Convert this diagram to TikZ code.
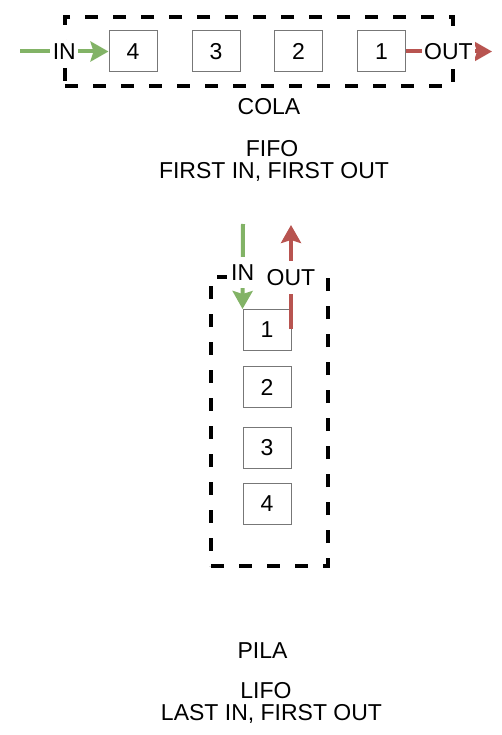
\documentclass[tikz,border=0pt]{standalone}
\usepackage{fontspec}
\setmainfont{Liberation Sans}
\usetikzlibrary{arrows.meta}
\definecolor{ggreen}{HTML}{82B366}
\definecolor{rred}{HTML}{B85450}
\definecolor{boxgray}{HTML}{777777}
\begin{document}
\begin{tikzpicture}[x=1pt,y=-1pt,
  txt/.style={font=\fontsize{23}{25}\selectfont, inner sep=0pt},
  item/.style={txt, draw=boxgray, fill=white, line width=1pt, minimum width=48pt, minimum height=41pt},
  frame/.style={draw=black, line width=4pt, dash pattern=on 13pt off 15pt, minimum width=#1, inner sep=0pt},
  lbl/.style={txt, fill=white, inner xsep=2.5pt, inner ysep=4pt, text=black},
  vlbl/.style={lbl, inner xsep=4pt, inner ysep=8pt},
  garrow/.style={draw=ggreen, line width=4pt, -{Stealth[length=18pt,width=20pt,inset=3pt]}},
  rarrow/.style={draw=rred, line width=4pt, -{Stealth[length=18pt,width=20pt,inset=3pt]}},
  heading/.style={txt, anchor=base}]
\useasboundingbox (0,0) rectangle (502,735);

% ---- COLA (FIFO) ----
\node[frame=388pt, minimum height=69pt] (colaframe) at (259,51.5) {};
\node[item] (c4) at (133,51.5) {4};
\node[item] (c3) at (216,51.5) {3};
\node[item] (c2) at (298.5,51.5) {2};
\node[item] (c1) at (381.5,51.5) {1};
\coordinate (cin) at (20,51.5);
\coordinate (cout) at (492,51.5);
\draw[garrow] (cin) -- (c4.west) node[lbl, midway] (cinl) {IN};
\draw[rarrow] (c1.east) -- (cout) node[lbl, pos=0.494] (coutl) {OUT};

\node[heading] (cola) at (269,115) {COLA};
\node[heading] (fifo) at (272,157) {FIFO};
\node[heading] (fifod) at (274,179) {FIRST IN, FIRST OUT};

% ---- PILA (LIFO) ----
\node[frame=117pt, minimum height=289pt] (pilaframe) at (269.5,421.5) {};
\node[item] (p1) at (267,330) {1};
\node[item] (p2) at (267,387) {2};
\node[item] (p3) at (267,448) {3};
\node[item] (p4) at (267,503.5) {4};
\coordinate (pin) at (243,224);
\coordinate (pout) at (291,225);
\coordinate (poutstart) at (291,329);
\draw[garrow] (pin) -- (p1.north west) node[vlbl, pos=0.57] (pinl) {IN};
\draw[rarrow] (poutstart) -- (pout) node[vlbl, pos=0.495] (poutl) {OUT};

\node[heading] (pila) at (262.5,658) {PILA};
\node[heading] (lifo) at (266,698) {LIFO};
\node[heading] (lifod) at (271.5,720) {LAST IN, FIRST OUT};
\end{tikzpicture}
\end{document}
